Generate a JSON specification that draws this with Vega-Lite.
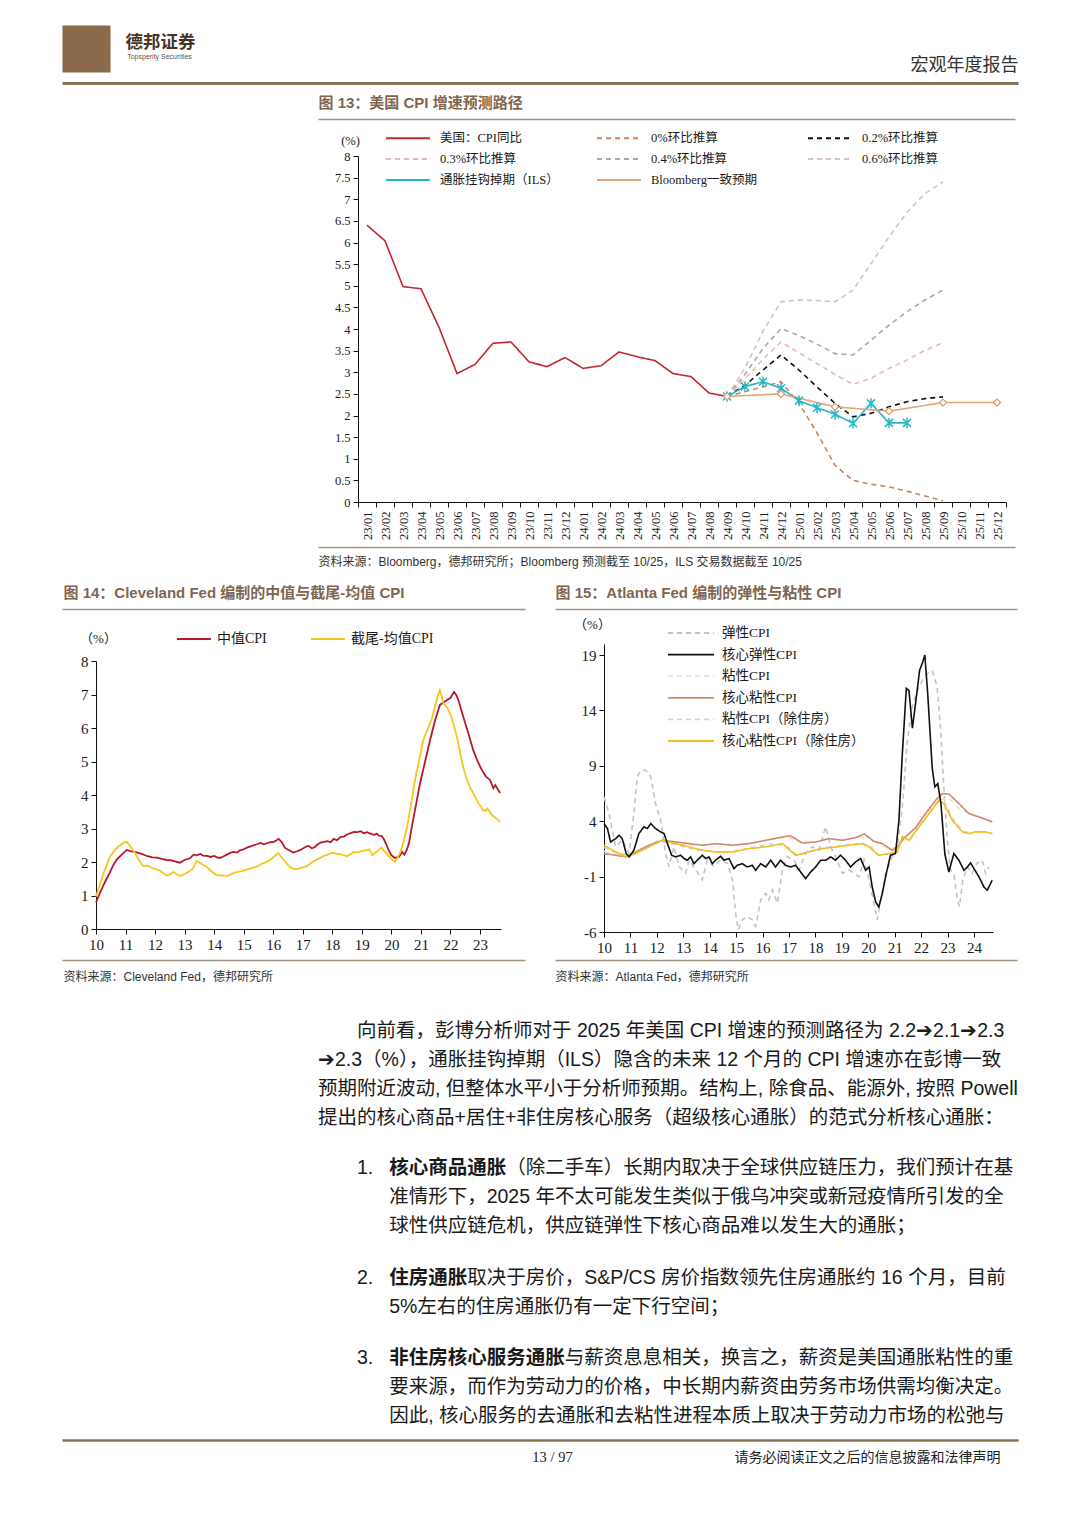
{
"$schema": "https://vega.github.io/schema/vega-lite/v6.json",
"background": "white",
"width": 956,
"height": 1415,
"autosize": {"type": "none"},
"padding": {"left": 62, "top": 25, "right": 62, "bottom": 88},
"resolve": {"scale": {"x": "independent", "y": "independent", "color": "independent", "strokeDash": "independent"}, "axis": {"x": "independent", "y": "independent"}, "legend": {"color": "independent", "strokeDash": "independent"}},
"config": {
  "view": {"stroke": null},
  "font": "Noto Sans CJK SC",
  "axis": {"grid": false, "domainColor": "#111", "tickColor": "#111", "labelColor": "#1a1a1a", "labelFont": "Liberation Serif", "titleColor": "#1a1a1a", "titleFont": "Liberation Serif, Noto Sans CJK SC", "titleFontWeight": "normal", "labelFlush": false, "labelOverlap": false, "tickSize": 5},
  "legend": {"labelFont": "Liberation Serif, Noto Sans CJK SC", "labelColor": "#1a1a1a", "padding": 0}
},
"datasets": {
  "empty": [],
  "c13": [
    {"s":"美国：CPI同比","m":"23/01","v":6.4},{"s":"美国：CPI同比","m":"23/02","v":6.04},{"s":"美国：CPI同比","m":"23/03","v":4.98},{"s":"美国：CPI同比","m":"23/04","v":4.93},{"s":"美国：CPI同比","m":"23/05","v":4.04},{"s":"美国：CPI同比","m":"23/06","v":2.97},{"s":"美国：CPI同比","m":"23/07","v":3.18},{"s":"美国：CPI同比","m":"23/08","v":3.67},{"s":"美国：CPI同比","m":"23/09","v":3.7},{"s":"美国：CPI同比","m":"23/10","v":3.24},{"s":"美国：CPI同比","m":"23/11","v":3.13},{"s":"美国：CPI同比","m":"23/12","v":3.34},{"s":"美国：CPI同比","m":"24/01","v":3.09},{"s":"美国：CPI同比","m":"24/02","v":3.15},{"s":"美国：CPI同比","m":"24/03","v":3.47},{"s":"美国：CPI同比","m":"24/04","v":3.36},{"s":"美国：CPI同比","m":"24/05","v":3.27},{"s":"美国：CPI同比","m":"24/06","v":2.97},{"s":"美国：CPI同比","m":"24/07","v":2.9},{"s":"美国：CPI同比","m":"24/08","v":2.52},{"s":"美国：CPI同比","m":"24/09","v":2.44},
    {"s":"0%环比推算","m":"24/09","v":2.44},{"s":"0%环比推算","m":"24/10","v":2.55},{"s":"0%环比推算","m":"24/11","v":2.66},{"s":"0%环比推算","m":"24/12","v":2.78},{"s":"0%环比推算","m":"25/01","v":2.28},{"s":"0%环比推算","m":"25/02","v":1.6},{"s":"0%环比推算","m":"25/03","v":0.85},{"s":"0%环比推算","m":"25/04","v":0.5},{"s":"0%环比推算","m":"25/05","v":0.41},{"s":"0%环比推算","m":"25/06","v":0.35},{"s":"0%环比推算","m":"25/07","v":0.25},{"s":"0%环比推算","m":"25/08","v":0.14},{"s":"0%环比推算","m":"25/09","v":0.03},
    {"s":"0.2%环比推算","m":"24/09","v":2.44},{"s":"0.2%环比推算","m":"24/10","v":2.7},{"s":"0.2%环比推算","m":"24/11","v":3.05},{"s":"0.2%环比推算","m":"24/12","v":3.4},{"s":"0.2%环比推算","m":"25/01","v":3.05},{"s":"0.2%环比推算","m":"25/02","v":2.66},{"s":"0.2%环比推算","m":"25/03","v":2.28},{"s":"0.2%环比推算","m":"25/04","v":1.97},{"s":"0.2%环比推算","m":"25/05","v":2.05},{"s":"0.2%环比推算","m":"25/06","v":2.2},{"s":"0.2%环比推算","m":"25/07","v":2.32},{"s":"0.2%环比推算","m":"25/08","v":2.39},{"s":"0.2%环比推算","m":"25/09","v":2.43},
    {"s":"0.3%环比推算","m":"24/09","v":2.44},{"s":"0.3%环比推算","m":"24/10","v":2.85},{"s":"0.3%环比推算","m":"24/11","v":3.3},{"s":"0.3%环比推算","m":"24/12","v":3.7},{"s":"0.3%环比推算","m":"25/01","v":3.45},{"s":"0.3%环比推算","m":"25/02","v":3.2},{"s":"0.3%环比推算","m":"25/03","v":2.95},{"s":"0.3%环比推算","m":"25/04","v":2.72},{"s":"0.3%环比推算","m":"25/05","v":2.86},{"s":"0.3%环比推算","m":"25/06","v":3.09},{"s":"0.3%环比推算","m":"25/07","v":3.28},{"s":"0.3%环比推算","m":"25/08","v":3.51},{"s":"0.3%环比推算","m":"25/09","v":3.68},
    {"s":"0.4%环比推算","m":"24/09","v":2.44},{"s":"0.4%环比推算","m":"24/10","v":2.95},{"s":"0.4%环比推算","m":"24/11","v":3.55},{"s":"0.4%环比推算","m":"24/12","v":4.01},{"s":"0.4%环比推算","m":"25/01","v":3.85},{"s":"0.4%环比推算","m":"25/02","v":3.65},{"s":"0.4%环比推算","m":"25/03","v":3.43},{"s":"0.4%环比推算","m":"25/04","v":3.4},{"s":"0.4%环比推算","m":"25/05","v":3.74},{"s":"0.4%环比推算","m":"25/06","v":4.09},{"s":"0.4%环比推算","m":"25/07","v":4.4},{"s":"0.4%环比推算","m":"25/08","v":4.67},{"s":"0.4%环比推算","m":"25/09","v":4.9},
    {"s":"0.6%环比推算","m":"24/09","v":2.44},{"s":"0.6%环比推算","m":"24/10","v":3.1},{"s":"0.6%环比推算","m":"24/11","v":3.95},{"s":"0.6%环比推算","m":"24/12","v":4.63},{"s":"0.6%环比推算","m":"25/01","v":4.67},{"s":"0.6%环比推算","m":"25/02","v":4.66},{"s":"0.6%环比推算","m":"25/03","v":4.63},{"s":"0.6%环比推算","m":"25/04","v":4.9},{"s":"0.6%环比推算","m":"25/05","v":5.51},{"s":"0.6%环比推算","m":"25/06","v":6.13},{"s":"0.6%环比推算","m":"25/07","v":6.7},{"s":"0.6%环比推算","m":"25/08","v":7.13},{"s":"0.6%环比推算","m":"25/09","v":7.4},
    {"s":"通胀挂钩掉期（ILS）","m":"24/09","v":2.44},{"s":"通胀挂钩掉期（ILS）","m":"24/10","v":2.67},{"s":"通胀挂钩掉期（ILS）","m":"24/11","v":2.78},{"s":"通胀挂钩掉期（ILS）","m":"24/12","v":2.63},{"s":"通胀挂钩掉期（ILS）","m":"25/01","v":2.34},{"s":"通胀挂钩掉期（ILS）","m":"25/02","v":2.18},{"s":"通胀挂钩掉期（ILS）","m":"25/03","v":2.03},{"s":"通胀挂钩掉期（ILS）","m":"25/04","v":1.82},{"s":"通胀挂钩掉期（ILS）","m":"25/05","v":2.28},{"s":"通胀挂钩掉期（ILS）","m":"25/06","v":1.83},{"s":"通胀挂钩掉期（ILS）","m":"25/07","v":1.83},
    {"s":"Bloomberg一致预期","m":"24/09","v":2.44},{"s":"Bloomberg一致预期","m":"24/12","v":2.5},{"s":"Bloomberg一致预期","m":"25/03","v":2.2},{"s":"Bloomberg一致预期","m":"25/06","v":2.1},{"s":"Bloomberg一致预期","m":"25/09","v":2.3},{"s":"Bloomberg一致预期","m":"25/12","v":2.3}
  ],
  "c14": [
    {"s":"中值CPI","t":2010.0,"v":0.79},{"s":"中值CPI","t":2010.12,"v":1.05},{"s":"中值CPI","t":2010.25,"v":1.3},{"s":"中值CPI","t":2010.36,"v":1.5},{"s":"中值CPI","t":2010.47,"v":1.68},{"s":"中值CPI","t":2010.58,"v":1.9},{"s":"中值CPI","t":2010.7,"v":2.07},{"s":"中值CPI","t":2010.87,"v":2.22},{"s":"中值CPI","t":2011.04,"v":2.36},{"s":"中值CPI","t":2011.2,"v":2.32},{"s":"中值CPI","t":2011.38,"v":2.29},{"s":"中值CPI","t":2011.55,"v":2.24},{"s":"中值CPI","t":2011.72,"v":2.18},{"s":"中值CPI","t":2011.9,"v":2.14},{"s":"中值CPI","t":2012.06,"v":2.13},{"s":"中值CPI","t":2012.23,"v":2.09},{"s":"中值CPI","t":2012.4,"v":2.06},{"s":"中值CPI","t":2012.55,"v":2.05},{"s":"中值CPI","t":2012.68,"v":2.02},{"s":"中值CPI","t":2012.84,"v":1.98},{"s":"中值CPI","t":2013.0,"v":2.06},{"s":"中值CPI","t":2013.18,"v":2.11},{"s":"中值CPI","t":2013.3,"v":2.22},{"s":"中值CPI","t":2013.42,"v":2.2},{"s":"中值CPI","t":2013.53,"v":2.24},{"s":"中值CPI","t":2013.65,"v":2.18},{"s":"中值CPI","t":2013.76,"v":2.18},{"s":"中值CPI","t":2013.88,"v":2.15},{"s":"中值CPI","t":2014.0,"v":2.18},{"s":"中值CPI","t":2014.1,"v":2.14},{"s":"中值CPI","t":2014.2,"v":2.12},{"s":"中值CPI","t":2014.32,"v":2.17},{"s":"中值CPI","t":2014.43,"v":2.22},{"s":"中值CPI","t":2014.54,"v":2.27},{"s":"中值CPI","t":2014.66,"v":2.3},{"s":"中值CPI","t":2014.78,"v":2.28},{"s":"中值CPI","t":2014.87,"v":2.35},{"s":"中值CPI","t":2015.0,"v":2.38},{"s":"中值CPI","t":2015.11,"v":2.43},{"s":"中值CPI","t":2015.21,"v":2.46},{"s":"中值CPI","t":2015.34,"v":2.5},{"s":"中值CPI","t":2015.45,"v":2.53},{"s":"中值CPI","t":2015.57,"v":2.57},{"s":"中值CPI","t":2015.68,"v":2.53},{"s":"中值CPI","t":2015.79,"v":2.56},{"s":"中值CPI","t":2015.9,"v":2.59},{"s":"中值CPI","t":2016.02,"v":2.6},{"s":"中值CPI","t":2016.1,"v":2.64},{"s":"中值CPI","t":2016.18,"v":2.69},{"s":"中值CPI","t":2016.28,"v":2.6},{"s":"中值CPI","t":2016.4,"v":2.42},{"s":"中值CPI","t":2016.52,"v":2.36},{"s":"中值CPI","t":2016.68,"v":2.28},{"s":"中值CPI","t":2016.81,"v":2.32},{"s":"中值CPI","t":2016.92,"v":2.36},{"s":"中值CPI","t":2017.02,"v":2.41},{"s":"中值CPI","t":2017.12,"v":2.46},{"s":"中值CPI","t":2017.2,"v":2.48},{"s":"中值CPI","t":2017.3,"v":2.41},{"s":"中值CPI","t":2017.4,"v":2.44},{"s":"中值CPI","t":2017.5,"v":2.52},{"s":"中值CPI","t":2017.6,"v":2.58},{"s":"中值CPI","t":2017.72,"v":2.6},{"s":"中值CPI","t":2017.83,"v":2.62},{"s":"中值CPI","t":2017.94,"v":2.59},{"s":"中值CPI","t":2018.05,"v":2.69},{"s":"中值CPI","t":2018.16,"v":2.65},{"s":"中值CPI","t":2018.28,"v":2.75},{"s":"中值CPI","t":2018.39,"v":2.76},{"s":"中值CPI","t":2018.5,"v":2.82},{"s":"中值CPI","t":2018.62,"v":2.86},{"s":"中值CPI","t":2018.73,"v":2.9},{"s":"中值CPI","t":2018.85,"v":2.89},{"s":"中值CPI","t":2018.96,"v":2.92},{"s":"中值CPI","t":2019.07,"v":2.86},{"s":"中值CPI","t":2019.18,"v":2.89},{"s":"中值CPI","t":2019.3,"v":2.84},{"s":"中值CPI","t":2019.41,"v":2.81},{"s":"中值CPI","t":2019.5,"v":2.84},{"s":"中值CPI","t":2019.58,"v":2.79},{"s":"中值CPI","t":2019.67,"v":2.78},{"s":"中值CPI","t":2019.75,"v":2.67},{"s":"中值CPI","t":2019.84,"v":2.5},{"s":"中值CPI","t":2019.92,"v":2.33},{"s":"中值CPI","t":2020.0,"v":2.2},{"s":"中值CPI","t":2020.12,"v":2.12},{"s":"中值CPI","t":2020.26,"v":2.16},{"s":"中值CPI","t":2020.36,"v":2.3},{"s":"中值CPI","t":2020.44,"v":2.22},{"s":"中值CPI","t":2020.52,"v":2.36},{"s":"中值CPI","t":2020.6,"v":2.58},{"s":"中值CPI","t":2020.69,"v":3.05},{"s":"中值CPI","t":2020.83,"v":3.7},{"s":"中值CPI","t":2020.97,"v":4.35},{"s":"中值CPI","t":2021.14,"v":5.0},{"s":"中值CPI","t":2021.31,"v":5.64},{"s":"中值CPI","t":2021.47,"v":6.2},{"s":"中值CPI","t":2021.64,"v":6.69},{"s":"中值CPI","t":2021.81,"v":6.79},{"s":"中值CPI","t":2022.0,"v":6.9},{"s":"中值CPI","t":2022.12,"v":7.08},{"s":"中值CPI","t":2022.2,"v":6.98},{"s":"中值CPI","t":2022.28,"v":6.8},{"s":"中值CPI","t":2022.43,"v":6.34},{"s":"中值CPI","t":2022.6,"v":5.85},{"s":"中值CPI","t":2022.77,"v":5.34},{"s":"中值CPI","t":2022.92,"v":5.0},{"s":"中值CPI","t":2023.06,"v":4.75},{"s":"中值CPI","t":2023.2,"v":4.55},{"s":"中值CPI","t":2023.34,"v":4.45},{"s":"中值CPI","t":2023.45,"v":4.2},{"s":"中值CPI","t":2023.52,"v":4.3},{"s":"中值CPI","t":2023.6,"v":4.17},{"s":"中值CPI","t":2023.68,"v":4.06},
    {"s":"截尾-均值CPI","t":2010.0,"v":0.97},{"s":"截尾-均值CPI","t":2010.12,"v":1.3},{"s":"截尾-均值CPI","t":2010.24,"v":1.62},{"s":"截尾-均值CPI","t":2010.36,"v":1.9},{"s":"截尾-均值CPI","t":2010.47,"v":2.16},{"s":"截尾-均值CPI","t":2010.64,"v":2.36},{"s":"截尾-均值CPI","t":2010.78,"v":2.48},{"s":"截尾-均值CPI","t":2010.92,"v":2.57},{"s":"截尾-均值CPI","t":2011.04,"v":2.6},{"s":"截尾-均值CPI","t":2011.18,"v":2.45},{"s":"截尾-均值CPI","t":2011.32,"v":2.27},{"s":"截尾-均值CPI","t":2011.46,"v":2.05},{"s":"截尾-均值CPI","t":2011.6,"v":1.88},{"s":"截尾-均值CPI","t":2011.75,"v":1.9},{"s":"截尾-均值CPI","t":2011.9,"v":1.82},{"s":"截尾-均值CPI","t":2012.05,"v":1.78},{"s":"截尾-均值CPI","t":2012.17,"v":1.74},{"s":"截尾-均值CPI","t":2012.3,"v":1.66},{"s":"截尾-均值CPI","t":2012.4,"v":1.6},{"s":"截尾-均值CPI","t":2012.5,"v":1.63},{"s":"截尾-均值CPI","t":2012.62,"v":1.7},{"s":"截尾-均值CPI","t":2012.72,"v":1.64},{"s":"截尾-均值CPI","t":2012.84,"v":1.58},{"s":"截尾-均值CPI","t":2013.0,"v":1.64},{"s":"截尾-均值CPI","t":2013.18,"v":1.74},{"s":"截尾-均值CPI","t":2013.28,"v":1.8},{"s":"截尾-均值CPI","t":2013.4,"v":2.03},{"s":"截尾-均值CPI","t":2013.52,"v":1.98},{"s":"截尾-均值CPI","t":2013.62,"v":1.92},{"s":"截尾-均值CPI","t":2013.74,"v":1.86},{"s":"截尾-均值CPI","t":2013.88,"v":1.74},{"s":"截尾-均值CPI","t":2014.08,"v":1.61},{"s":"截尾-均值CPI","t":2014.24,"v":1.6},{"s":"截尾-均值CPI","t":2014.42,"v":1.58},{"s":"截尾-均值CPI","t":2014.56,"v":1.63},{"s":"截尾-均值CPI","t":2014.7,"v":1.69},{"s":"截尾-均值CPI","t":2014.87,"v":1.71},{"s":"截尾-均值CPI","t":2015.05,"v":1.76},{"s":"截尾-均值CPI","t":2015.25,"v":1.82},{"s":"截尾-均值CPI","t":2015.44,"v":1.86},{"s":"截尾-均值CPI","t":2015.6,"v":1.94},{"s":"截尾-均值CPI","t":2015.75,"v":1.99},{"s":"截尾-均值CPI","t":2015.89,"v":2.06},{"s":"截尾-均值CPI","t":2016.05,"v":2.18},{"s":"截尾-均值CPI","t":2016.17,"v":2.27},{"s":"截尾-均值CPI","t":2016.3,"v":2.12},{"s":"截尾-均值CPI","t":2016.45,"v":1.96},{"s":"截尾-均值CPI","t":2016.58,"v":1.84},{"s":"截尾-均值CPI","t":2016.72,"v":1.78},{"s":"截尾-均值CPI","t":2016.85,"v":1.8},{"s":"截尾-均值CPI","t":2017.0,"v":1.84},{"s":"截尾-均值CPI","t":2017.12,"v":1.87},{"s":"截尾-均值CPI","t":2017.24,"v":1.95},{"s":"截尾-均值CPI","t":2017.38,"v":2.03},{"s":"截尾-均值CPI","t":2017.55,"v":2.1},{"s":"截尾-均值CPI","t":2017.71,"v":2.18},{"s":"截尾-均值CPI","t":2017.85,"v":2.22},{"s":"截尾-均值CPI","t":2017.99,"v":2.28},{"s":"截尾-均值CPI","t":2018.14,"v":2.25},{"s":"截尾-均值CPI","t":2018.28,"v":2.23},{"s":"截尾-均值CPI","t":2018.4,"v":2.2},{"s":"截尾-均值CPI","t":2018.5,"v":2.17},{"s":"截尾-均值CPI","t":2018.62,"v":2.24},{"s":"截尾-均值CPI","t":2018.73,"v":2.3},{"s":"截尾-均值CPI","t":2018.88,"v":2.29},{"s":"截尾-均值CPI","t":2019.02,"v":2.33},{"s":"截尾-均值CPI","t":2019.13,"v":2.35},{"s":"截尾-均值CPI","t":2019.24,"v":2.38},{"s":"截尾-均值CPI","t":2019.3,"v":2.3},{"s":"截尾-均值CPI","t":2019.36,"v":2.2},{"s":"截尾-均值CPI","t":2019.45,"v":2.28},{"s":"截尾-均值CPI","t":2019.53,"v":2.33},{"s":"截尾-均值CPI","t":2019.6,"v":2.38},{"s":"截尾-均值CPI","t":2019.66,"v":2.43},{"s":"截尾-均值CPI","t":2019.73,"v":2.36},{"s":"截尾-均值CPI","t":2019.81,"v":2.28},{"s":"截尾-均值CPI","t":2019.9,"v":2.18},{"s":"截尾-均值CPI","t":2019.98,"v":2.1},{"s":"截尾-均值CPI","t":2020.05,"v":2.05},{"s":"截尾-均值CPI","t":2020.12,"v":2.0},{"s":"截尾-均值CPI","t":2020.2,"v":2.12},{"s":"截尾-均值CPI","t":2020.29,"v":2.27},{"s":"截尾-均值CPI","t":2020.41,"v":2.6},{"s":"截尾-均值CPI","t":2020.53,"v":3.05},{"s":"截尾-均值CPI","t":2020.66,"v":3.7},{"s":"截尾-均值CPI","t":2020.8,"v":4.45},{"s":"截尾-均值CPI","t":2020.94,"v":5.05},{"s":"截尾-均值CPI","t":2021.08,"v":5.64},{"s":"截尾-均值CPI","t":2021.22,"v":5.95},{"s":"截尾-均值CPI","t":2021.36,"v":6.24},{"s":"截尾-均值CPI","t":2021.46,"v":6.6},{"s":"截尾-均值CPI","t":2021.55,"v":6.9},{"s":"截尾-均值CPI","t":2021.64,"v":7.13},{"s":"截尾-均值CPI","t":2021.7,"v":6.95},{"s":"截尾-均值CPI","t":2021.75,"v":6.75},{"s":"截尾-均值CPI","t":2021.9,"v":6.6},{"s":"截尾-均值CPI","t":2022.0,"v":6.4},{"s":"截尾-均值CPI","t":2022.09,"v":6.15},{"s":"截尾-均值CPI","t":2022.17,"v":5.9},{"s":"截尾-均值CPI","t":2022.25,"v":5.6},{"s":"截尾-均值CPI","t":2022.34,"v":5.2},{"s":"截尾-均值CPI","t":2022.43,"v":4.84},{"s":"截尾-均值CPI","t":2022.52,"v":4.55},{"s":"截尾-均值CPI","t":2022.6,"v":4.35},{"s":"截尾-均值CPI","t":2022.68,"v":4.2},{"s":"截尾-均值CPI","t":2022.77,"v":4.06},{"s":"截尾-均值CPI","t":2022.86,"v":3.9},{"s":"截尾-均值CPI","t":2022.95,"v":3.75},{"s":"截尾-均值CPI","t":2023.03,"v":3.65},{"s":"截尾-均值CPI","t":2023.1,"v":3.55},{"s":"截尾-均值CPI","t":2023.18,"v":3.52},{"s":"截尾-均值CPI","t":2023.25,"v":3.6},{"s":"截尾-均值CPI","t":2023.33,"v":3.5},{"s":"截尾-均值CPI","t":2023.4,"v":3.4},{"s":"截尾-均值CPI","t":2023.48,"v":3.35},{"s":"截尾-均值CPI","t":2023.55,"v":3.3},{"s":"截尾-均值CPI","t":2023.62,"v":3.25},{"s":"截尾-均值CPI","t":2023.68,"v":3.19}
  ],
  "c15": [
    {"s":"弹性CPI","t":2010.0,"v":6.2},{"s":"弹性CPI","t":2010.19,"v":4.7},{"s":"弹性CPI","t":2010.44,"v":1.7},{"s":"弹性CPI","t":2010.69,"v":2.3},{"s":"弹性CPI","t":2010.95,"v":1.1},{"s":"弹性CPI","t":2011.13,"v":4.7},{"s":"弹性CPI","t":2011.26,"v":8.0},{"s":"弹性CPI","t":2011.39,"v":8.6},{"s":"弹性CPI","t":2011.58,"v":8.6},{"s":"弹性CPI","t":2011.77,"v":8.0},{"s":"弹性CPI","t":2011.95,"v":5.6},{"s":"弹性CPI","t":2012.14,"v":4.1},{"s":"弹性CPI","t":2012.33,"v":1.1},{"s":"弹性CPI","t":2012.46,"v":-0.1},{"s":"弹性CPI","t":2012.65,"v":1.7},{"s":"弹性CPI","t":2012.84,"v":-0.1},{"s":"弹性CPI","t":2013.09,"v":-0.7},{"s":"弹性CPI","t":2013.22,"v":0.5},{"s":"弹性CPI","t":2013.47,"v":-0.4},{"s":"弹性CPI","t":2013.72,"v":-1.3},{"s":"弹性CPI","t":2013.91,"v":0.5},{"s":"弹性CPI","t":2014.16,"v":-0.1},{"s":"弹性CPI","t":2014.41,"v":0.5},{"s":"弹性CPI","t":2014.67,"v":0.2},{"s":"弹性CPI","t":2014.86,"v":-1.3},{"s":"弹性CPI","t":2014.98,"v":-4.3},{"s":"弹性CPI","t":2015.08,"v":-5.8},{"s":"弹性CPI","t":2015.23,"v":-4.9},{"s":"弹性CPI","t":2015.42,"v":-4.6},{"s":"弹性CPI","t":2015.61,"v":-4.9},{"s":"弹性CPI","t":2015.74,"v":-5.5},{"s":"弹性CPI","t":2015.93,"v":-3.1},{"s":"弹性CPI","t":2016.12,"v":-2.5},{"s":"弹性CPI","t":2016.24,"v":-3.1},{"s":"弹性CPI","t":2016.37,"v":-2.2},{"s":"弹性CPI","t":2016.56,"v":-3.4},{"s":"弹性CPI","t":2016.75,"v":-0.4},{"s":"弹性CPI","t":2016.94,"v":0.8},{"s":"弹性CPI","t":2017.19,"v":0.5},{"s":"弹性CPI","t":2017.38,"v":-0.4},{"s":"弹性CPI","t":2017.63,"v":1.1},{"s":"弹性CPI","t":2017.88,"v":1.7},{"s":"弹性CPI","t":2018.13,"v":1.4},{"s":"弹性CPI","t":2018.39,"v":3.5},{"s":"弹性CPI","t":2018.58,"v":1.7},{"s":"弹性CPI","t":2018.76,"v":0.8},{"s":"弹性CPI","t":2019.02,"v":-0.7},{"s":"弹性CPI","t":2019.27,"v":-0.4},{"s":"弹性CPI","t":2019.46,"v":-0.7},{"s":"弹性CPI","t":2019.65,"v":-1.0},{"s":"弹性CPI","t":2019.84,"v":0.5},{"s":"弹性CPI","t":2020.03,"v":-1.3},{"s":"弹性CPI","t":2020.21,"v":-3.4},{"s":"弹性CPI","t":2020.34,"v":-4.9},{"s":"弹性CPI","t":2020.47,"v":-3.1},{"s":"弹性CPI","t":2020.66,"v":-0.7},{"s":"弹性CPI","t":2020.91,"v":0.8},{"s":"弹性CPI","t":2021.1,"v":1.7},{"s":"弹性CPI","t":2021.29,"v":5.3},{"s":"弹性CPI","t":2021.48,"v":11.3},{"s":"弹性CPI","t":2021.66,"v":14.3},{"s":"弹性CPI","t":2021.85,"v":15.8},{"s":"弹性CPI","t":2022.04,"v":16.7},{"s":"弹性CPI","t":2022.23,"v":17.3},{"s":"弹性CPI","t":2022.42,"v":17.6},{"s":"弹性CPI","t":2022.61,"v":16.1},{"s":"弹性CPI","t":2022.74,"v":12.2},{"s":"弹性CPI","t":2022.86,"v":7.1},{"s":"弹性CPI","t":2022.99,"v":2.3},{"s":"弹性CPI","t":2023.11,"v":-0.4},{"s":"弹性CPI","t":2023.24,"v":-0.7},{"s":"弹性CPI","t":2023.37,"v":-3.1},{"s":"弹性CPI","t":2023.45,"v":-3.7},{"s":"弹性CPI","t":2023.58,"v":-1.3},{"s":"弹性CPI","t":2023.75,"v":-0.1},{"s":"弹性CPI","t":2023.93,"v":-0.7},{"s":"弹性CPI","t":2024.12,"v":0.2},{"s":"弹性CPI","t":2024.31,"v":0.5},{"s":"弹性CPI","t":2024.44,"v":-0.7},{"s":"弹性CPI","t":2024.56,"v":-0.1},
    {"s":"粘性CPI","t":2010.0,"v":1.3},{"s":"粘性CPI","t":2010.5,"v":1.0},{"s":"粘性CPI","t":2011.0,"v":0.9},{"s":"粘性CPI","t":2011.5,"v":1.5},{"s":"粘性CPI","t":2012.0,"v":2.1},{"s":"粘性CPI","t":2012.5,"v":2.1},{"s":"粘性CPI","t":2013.0,"v":1.9},{"s":"粘性CPI","t":2013.5,"v":1.8},{"s":"粘性CPI","t":2014.0,"v":1.9},{"s":"粘性CPI","t":2014.5,"v":1.9},{"s":"粘性CPI","t":2015.0,"v":1.9},{"s":"粘性CPI","t":2015.5,"v":2.0},{"s":"粘性CPI","t":2016.0,"v":2.2},{"s":"粘性CPI","t":2016.5,"v":2.4},{"s":"粘性CPI","t":2017.0,"v":2.5},{"s":"粘性CPI","t":2017.5,"v":2.0},{"s":"粘性CPI","t":2018.0,"v":2.1},{"s":"粘性CPI","t":2018.5,"v":2.4},{"s":"粘性CPI","t":2019.0,"v":2.3},{"s":"粘性CPI","t":2019.5,"v":2.5},{"s":"粘性CPI","t":2020.0,"v":2.6},{"s":"粘性CPI","t":2020.4,"v":1.9},{"s":"粘性CPI","t":2020.9,"v":1.4},{"s":"粘性CPI","t":2021.3,"v":2.4},{"s":"粘性CPI","t":2021.8,"v":3.5},{"s":"粘性CPI","t":2022.2,"v":4.8},{"s":"粘性CPI","t":2022.7,"v":6.0},{"s":"粘性CPI","t":2023.1,"v":6.0},{"s":"粘性CPI","t":2023.5,"v":5.0},{"s":"粘性CPI","t":2024.0,"v":4.5},{"s":"粘性CPI","t":2024.7,"v":4.0},
    {"s":"粘性CPI（除住房）","t":2010.0,"v":1.6},{"s":"粘性CPI（除住房）","t":2010.5,"v":1.2},{"s":"粘性CPI（除住房）","t":2011.0,"v":0.9},{"s":"粘性CPI（除住房）","t":2011.5,"v":1.5},{"s":"粘性CPI（除住房）","t":2012.0,"v":2.2},{"s":"粘性CPI（除住房）","t":2012.5,"v":2.0},{"s":"粘性CPI（除住房）","t":2013.0,"v":1.7},{"s":"粘性CPI（除住房）","t":2013.5,"v":1.4},{"s":"粘性CPI（除住房）","t":2014.0,"v":1.3},{"s":"粘性CPI（除住房）","t":2014.5,"v":1.2},{"s":"粘性CPI（除住房）","t":2015.0,"v":1.3},{"s":"粘性CPI（除住房）","t":2015.5,"v":1.6},{"s":"粘性CPI（除住房）","t":2016.0,"v":1.8},{"s":"粘性CPI（除住房）","t":2016.5,"v":2.0},{"s":"粘性CPI（除住房）","t":2017.0,"v":1.6},{"s":"粘性CPI（除住房）","t":2017.3,"v":0.9},{"s":"粘性CPI（除住房）","t":2017.8,"v":1.3},{"s":"粘性CPI（除住房）","t":2018.3,"v":1.6},{"s":"粘性CPI（除住房）","t":2018.8,"v":1.7},{"s":"粘性CPI（除住房）","t":2019.3,"v":1.9},{"s":"粘性CPI（除住房）","t":2019.8,"v":2.0},{"s":"粘性CPI（除住房）","t":2020.1,"v":1.7},{"s":"粘性CPI（除住房）","t":2020.4,"v":0.9},{"s":"粘性CPI（除住房）","t":2020.8,"v":1.1},{"s":"粘性CPI（除住房）","t":2021.1,"v":1.3},{"s":"粘性CPI（除住房）","t":2021.3,"v":2.6},{"s":"粘性CPI（除住房）","t":2021.6,"v":2.4},{"s":"粘性CPI（除住房）","t":2021.9,"v":3.5},{"s":"粘性CPI（除住房）","t":2022.3,"v":4.7},{"s":"粘性CPI（除住房）","t":2022.7,"v":5.9},{"s":"粘性CPI（除住房）","t":2022.9,"v":5.7},{"s":"粘性CPI（除住房）","t":2023.2,"v":4.2},{"s":"粘性CPI（除住房）","t":2023.6,"v":3.1},{"s":"粘性CPI（除住房）","t":2023.9,"v":2.9},{"s":"粘性CPI（除住房）","t":2024.1,"v":3.1},{"s":"粘性CPI（除住房）","t":2024.5,"v":3.0},{"s":"粘性CPI（除住房）","t":2024.7,"v":2.9},
    {"s":"核心粘性CPI","t":2010.0,"v":1.08},{"s":"核心粘性CPI","t":2010.44,"v":0.93},{"s":"核心粘性CPI","t":2010.82,"v":0.78},{"s":"核心粘性CPI","t":2011.2,"v":1.23},{"s":"核心粘性CPI","t":2011.7,"v":1.83},{"s":"核心粘性CPI","t":2012.21,"v":2.28},{"s":"核心粘性CPI","t":2012.71,"v":2.13},{"s":"核心粘性CPI","t":2013.22,"v":1.98},{"s":"核心粘性CPI","t":2013.72,"v":1.83},{"s":"核心粘性CPI","t":2014.22,"v":1.98},{"s":"核心粘性CPI","t":2014.86,"v":1.83},{"s":"核心粘性CPI","t":2015.49,"v":1.98},{"s":"核心粘性CPI","t":2016.12,"v":2.28},{"s":"核心粘性CPI","t":2016.75,"v":2.58},{"s":"核心粘性CPI","t":2017.04,"v":2.7},{"s":"核心粘性CPI","t":2017.5,"v":2.05},{"s":"核心粘性CPI","t":2018.01,"v":2.13},{"s":"核心粘性CPI","t":2018.51,"v":2.43},{"s":"核心粘性CPI","t":2019.02,"v":2.28},{"s":"核心粘性CPI","t":2019.52,"v":2.52},{"s":"核心粘性CPI","t":2019.85,"v":2.85},{"s":"核心粘性CPI","t":2020.2,"v":2.2},{"s":"核心粘性CPI","t":2020.53,"v":1.98},{"s":"核心粘性CPI","t":2020.91,"v":1.38},{"s":"核心粘性CPI","t":2021.1,"v":1.7},{"s":"核心粘性CPI","t":2021.41,"v":2.6},{"s":"核心粘性CPI","t":2021.79,"v":3.4},{"s":"核心粘性CPI","t":2022.17,"v":4.69},{"s":"核心粘性CPI","t":2022.55,"v":5.9},{"s":"核心粘性CPI","t":2022.8,"v":6.5},{"s":"核心粘性CPI","t":2023.05,"v":6.45},{"s":"核心粘性CPI","t":2023.43,"v":5.6},{"s":"核心粘性CPI","t":2023.81,"v":4.69},{"s":"核心粘性CPI","t":2024.19,"v":4.39},{"s":"核心粘性CPI","t":2024.69,"v":3.94},
    {"s":"核心粘性CPI（除住房）","t":2010.0,"v":1.83},{"s":"核心粘性CPI（除住房）","t":2010.44,"v":1.23},{"s":"核心粘性CPI（除住房）","t":2010.82,"v":0.78},{"s":"核心粘性CPI（除住房）","t":2011.2,"v":1.08},{"s":"核心粘性CPI（除住房）","t":2011.7,"v":1.68},{"s":"核心粘性CPI（除住房）","t":2012.21,"v":2.28},{"s":"核心粘性CPI（除住房）","t":2012.71,"v":1.98},{"s":"核心粘性CPI（除住房）","t":2013.22,"v":1.68},{"s":"核心粘性CPI（除住房）","t":2013.72,"v":1.38},{"s":"核心粘性CPI（除住房）","t":2014.22,"v":1.23},{"s":"核心粘性CPI（除住房）","t":2014.86,"v":1.23},{"s":"核心粘性CPI（除住房）","t":2015.49,"v":1.53},{"s":"核心粘性CPI（除住房）","t":2016.12,"v":1.68},{"s":"核心粘性CPI（除住房）","t":2016.75,"v":1.98},{"s":"核心粘性CPI（除住房）","t":2017.25,"v":0.93},{"s":"核心粘性CPI（除住房）","t":2017.76,"v":1.23},{"s":"核心粘性CPI（除住房）","t":2018.26,"v":1.53},{"s":"核心粘性CPI（除住房）","t":2018.76,"v":1.68},{"s":"核心粘性CPI（除住房）","t":2019.27,"v":1.83},{"s":"核心粘性CPI（除住房）","t":2019.77,"v":1.98},{"s":"核心粘性CPI（除住房）","t":2020.03,"v":1.68},{"s":"核心粘性CPI（除住房）","t":2020.4,"v":0.93},{"s":"核心粘性CPI（除住房）","t":2020.78,"v":1.08},{"s":"核心粘性CPI（除住房）","t":2021.1,"v":1.23},{"s":"核心粘性CPI（除住房）","t":2021.29,"v":2.58},{"s":"核心粘性CPI（除住房）","t":2021.54,"v":2.28},{"s":"核心粘性CPI（除住房）","t":2021.92,"v":3.49},{"s":"核心粘性CPI（除住房）","t":2022.3,"v":4.69},{"s":"核心粘性CPI（除住房）","t":2022.68,"v":5.9},{"s":"核心粘性CPI（除住房）","t":2022.86,"v":5.6},{"s":"核心粘性CPI（除住房）","t":2023.18,"v":4.09},{"s":"核心粘性CPI（除住房）","t":2023.56,"v":3.04},{"s":"核心粘性CPI（除住房）","t":2023.81,"v":2.89},{"s":"核心粘性CPI（除住房）","t":2024.06,"v":3.04},{"s":"核心粘性CPI（除住房）","t":2024.44,"v":3.04},{"s":"核心粘性CPI（除住房）","t":2024.69,"v":2.89},
    {"s":"核心弹性CPI","t":2010.0,"v":3.79},{"s":"核心弹性CPI","t":2010.13,"v":3.34},{"s":"核心弹性CPI","t":2010.25,"v":2.13},{"s":"核心弹性CPI","t":2010.44,"v":2.43},{"s":"核心弹性CPI","t":2010.57,"v":2.73},{"s":"核心弹性CPI","t":2010.69,"v":2.43},{"s":"核心弹性CPI","t":2010.84,"v":1.08},{"s":"核心弹性CPI","t":2010.95,"v":0.78},{"s":"核心弹性CPI","t":2011.13,"v":1.38},{"s":"核心弹性CPI","t":2011.32,"v":2.89},{"s":"核心弹性CPI","t":2011.51,"v":3.49},{"s":"核心弹性CPI","t":2011.64,"v":3.34},{"s":"核心弹性CPI","t":2011.77,"v":3.79},{"s":"核心弹性CPI","t":2011.95,"v":3.34},{"s":"核心弹性CPI","t":2012.14,"v":3.04},{"s":"核心弹性CPI","t":2012.27,"v":2.89},{"s":"核心弹性CPI","t":2012.4,"v":1.98},{"s":"核心弹性CPI","t":2012.56,"v":0.93},{"s":"核心弹性CPI","t":2012.71,"v":0.78},{"s":"核心弹性CPI","t":2012.9,"v":0.93},{"s":"核心弹性CPI","t":2013.03,"v":0.63},{"s":"核心弹性CPI","t":2013.15,"v":0.48},{"s":"核心弹性CPI","t":2013.28,"v":0.78},{"s":"核心弹性CPI","t":2013.4,"v":0.17},{"s":"核心弹性CPI","t":2013.53,"v":0.48},{"s":"核心弹性CPI","t":2013.72,"v":0.93},{"s":"核心弹性CPI","t":2013.85,"v":0.63},{"s":"核心弹性CPI","t":2013.97,"v":0.78},{"s":"核心弹性CPI","t":2014.1,"v":0.17},{"s":"核心弹性CPI","t":2014.22,"v":0.48},{"s":"核心弹性CPI","t":2014.41,"v":0.84},{"s":"核心弹性CPI","t":2014.54,"v":0.48},{"s":"核心弹性CPI","t":2014.73,"v":0.63},{"s":"核心弹性CPI","t":2014.92,"v":-0.28},{"s":"核心弹性CPI","t":2015.04,"v":0.02},{"s":"核心弹性CPI","t":2015.23,"v":0.17},{"s":"核心弹性CPI","t":2015.42,"v":-0.13},{"s":"核心弹性CPI","t":2015.61,"v":0.02},{"s":"核心弹性CPI","t":2015.74,"v":-0.43},{"s":"核心弹性CPI","t":2015.93,"v":0.17},{"s":"核心弹性CPI","t":2016.12,"v":-0.13},{"s":"核心弹性CPI","t":2016.31,"v":0.48},{"s":"核心弹性CPI","t":2016.49,"v":-0.13},{"s":"核心弹性CPI","t":2016.68,"v":0.48},{"s":"核心弹性CPI","t":2016.87,"v":0.02},{"s":"核心弹性CPI","t":2017.06,"v":-0.13},{"s":"核心弹性CPI","t":2017.25,"v":0.02},{"s":"核心弹性CPI","t":2017.44,"v":-0.58},{"s":"核心弹性CPI","t":2017.63,"v":-1.18},{"s":"核心弹性CPI","t":2017.82,"v":-0.58},{"s":"核心弹性CPI","t":2018.01,"v":-0.13},{"s":"核心弹性CPI","t":2018.2,"v":0.48},{"s":"核心弹性CPI","t":2018.39,"v":0.48},{"s":"核心弹性CPI","t":2018.58,"v":0.78},{"s":"核心弹性CPI","t":2018.76,"v":0.48},{"s":"核心弹性CPI","t":2018.95,"v":0.93},{"s":"核心弹性CPI","t":2019.14,"v":0.48},{"s":"核心弹性CPI","t":2019.33,"v":-0.13},{"s":"核心弹性CPI","t":2019.52,"v":0.33},{"s":"核心弹性CPI","t":2019.71,"v":0.63},{"s":"核心弹性CPI","t":2019.9,"v":-0.43},{"s":"核心弹性CPI","t":2020.03,"v":-0.13},{"s":"核心弹性CPI","t":2020.15,"v":-1.94},{"s":"核心弹性CPI","t":2020.28,"v":-3.29},{"s":"核心弹性CPI","t":2020.4,"v":-3.74},{"s":"核心弹性CPI","t":2020.53,"v":-2.54},{"s":"核心弹性CPI","t":2020.68,"v":-0.73},{"s":"核心弹性CPI","t":2020.84,"v":0.93},{"s":"核心弹性CPI","t":2021.03,"v":1.08},{"s":"核心弹性CPI","t":2021.16,"v":4.09},{"s":"核心弹性CPI","t":2021.29,"v":10.1},{"s":"核心弹性CPI","t":2021.44,"v":16.0},{"s":"核心弹性CPI","t":2021.54,"v":15.8},{"s":"核心弹性CPI","t":2021.67,"v":12.4},{"s":"核心弹性CPI","t":2021.85,"v":15.8},{"s":"核心弹性CPI","t":2021.94,"v":17.6},{"s":"核心弹性CPI","t":2022.05,"v":18.3},{"s":"核心弹性CPI","t":2022.14,"v":19.0},{"s":"核心弹性CPI","t":2022.25,"v":15.5},{"s":"核心弹性CPI","t":2022.42,"v":8.8},{"s":"核心弹性CPI","t":2022.52,"v":7.1},{"s":"核心弹性CPI","t":2022.63,"v":7.4},{"s":"核心弹性CPI","t":2022.75,"v":5.6},{"s":"核心弹性CPI","t":2022.9,"v":1.0},{"s":"核心弹性CPI","t":2023.05,"v":-0.58},{"s":"核心弹性CPI","t":2023.24,"v":1.08},{"s":"核心弹性CPI","t":2023.43,"v":0.48},{"s":"核心弹性CPI","t":2023.62,"v":-0.43},{"s":"核心弹性CPI","t":2023.75,"v":-0.13},{"s":"核心弹性CPI","t":2023.87,"v":0.23},{"s":"核心弹性CPI","t":2024.04,"v":-0.43},{"s":"核心弹性CPI","t":2024.19,"v":-1.03},{"s":"核心弹性CPI","t":2024.38,"v":-1.94},{"s":"核心弹性CPI","t":2024.5,"v":-2.23},{"s":"核心弹性CPI","t":2024.69,"v":-1.33}
  ],
  "body": [
    {"para":1,"line":1,"indent":2,"text":"向前看，彭博分析师对于 2025 年美国 CPI 增速的预测路径为 2.2➔2.1➔2.3"},
    {"para":1,"line":2,"indent":0,"text":"➔2.3（%），通胀挂钩掉期（ILS）隐含的未来 12 个月的 CPI 增速亦在彭博一致"},
    {"para":1,"line":3,"indent":0,"text":"预期附近波动, 但整体水平小于分析师预期。结构上, 除食品、能源外, 按照 Powell"},
    {"para":1,"line":4,"indent":0,"text":"提出的核心商品+居住+非住房核心服务（超级核心通胀）的范式分析核心通胀："},
    {"para":2,"line":1,"indent":2,"text":"1."},
    {"para":2,"line":1,"indent":3.65,"text":"核心商品通胀","role":"term"},
    {"para":2,"line":1,"indent":9.65,"text":"（除二手车）长期内取决于全球供应链压力，我们预计在基"},
    {"para":2,"line":2,"indent":3.65,"text":"准情形下，2025 年不太可能发生类似于俄乌冲突或新冠疫情所引发的全"},
    {"para":2,"line":3,"indent":3.65,"text":"球性供应链危机，供应链弹性下核心商品难以发生大的通胀；"},
    {"para":3,"line":1,"indent":2,"text":"2."},
    {"para":3,"line":1,"indent":3.65,"text":"住房通胀","role":"term"},
    {"para":3,"line":1,"indent":7.65,"text":"取决于房价，S&P/CS 房价指数领先住房通胀约 16 个月，目前"},
    {"para":3,"line":2,"indent":3.65,"text":"5%左右的住房通胀仍有一定下行空间；"},
    {"para":4,"line":1,"indent":2,"text":"3."},
    {"para":4,"line":1,"indent":3.65,"text":"非住房核心服务通胀","role":"term"},
    {"para":4,"line":1,"indent":12.65,"text":"与薪资息息相关，换言之，薪资是美国通胀粘性的重"},
    {"para":4,"line":2,"indent":3.65,"text":"要来源，而作为劳动力的价格，中长期内薪资由劳务市场供需均衡决定。"},
    {"para":4,"line":3,"indent":3.65,"text":"因此, 核心服务的去通胀和去粘性进程本质上取决于劳动力市场的松弛与"}
  ]
},
"layer": [
  {"data": {"name": "empty"}, "mark": "point",
   "encoding": {"x": {"field": "a", "type": "quantitative", "scale": {"domain": [0, 1], "range": [0, 48]},
     "axis": {"orient": "top", "offset": -23.5, "domainColor": "#8a6a4a", "domainWidth": 47, "ticks": false, "labels": false, "title": null}}}},
  {"data": {"name": "empty"}, "mark": "point",
   "encoding": {"x": {"field": "a", "type": "quantitative", "scale": {"domain": [0, 1], "range": [0, 956]},
     "axis": {"orient": "top", "offset": -58, "domainColor": "#8b7358", "domainWidth": 3, "ticks": false, "labels": false,
       "title": "宏观年度报告", "titleX": 956, "titleY": -9, "titleAlign": "right", "titleBaseline": "bottom", "titleFont": "Noto Sans CJK SC", "titleFontSize": 18, "titleColor": "#333"}}}},
  {"data": {"name": "empty"}, "mark": "point",
   "encoding": {"x": {"field": "a", "type": "quantitative", "scale": {"domain": [0, 1], "range": [0, 956]},
     "axis": {"orient": "top", "domain": false, "ticks": false, "labels": false,
       "title": "德邦证券", "titleX": 98, "titleY": 17, "titleAlign": "center", "titleBaseline": "middle", "titleFont": "Noto Sans CJK SC", "titleFontSize": 17.5, "titleFontWeight": "bold", "titleColor": "#4a3424"}}}},
  {"data": {"name": "empty"}, "mark": "point",
   "encoding": {"x": {"field": "a", "type": "quantitative", "scale": {"domain": [0, 1], "range": [0, 956]},
     "axis": {"orient": "top", "domain": false, "ticks": false, "labels": false,
       "title": "Topsperity Securities", "titleX": 97, "titleY": 31, "titleAlign": "center", "titleBaseline": "middle", "titleFont": "Liberation Sans", "titleFontSize": 7, "titleColor": "#555"}}}},
  {"data": {"name": "empty"}, "mark": "point",
   "encoding": {"x": {"field": "a", "type": "quantitative", "scale": {"domain": [0, 1], "range": [256, 953]},
     "axis": {"orient": "top", "offset": -94, "domainColor": "#a39482", "domainWidth": 1.3, "ticks": false, "labels": false,
       "title": "图 13：美国 CPI 增速预测路径", "titleX": 256, "titleY": -9, "titleAlign": "left", "titleBaseline": "bottom", "titleFont": "Liberation Sans, Noto Sans CJK SC", "titleFontSize": 15, "titleFontWeight": "bold", "titleColor": "#806650"}}}},
  {"data": {"name": "c13"},
   "mark": {"type": "line", "strokeWidth": 1.6},
   "encoding": {
     "x": {"field": "m", "type": "ordinal", "bandPosition": 0.5,
       "scale": {"type": "band", "paddingInner": 0, "paddingOuter": 0, "range": [296, 944], "domain": ["23/01","23/02","23/03","23/04","23/05","23/06","23/07","23/08","23/09","23/10","23/11","23/12","24/01","24/02","24/03","24/04","24/05","24/06","24/07","24/08","24/09","24/10","24/11","24/12","25/01","25/02","25/03","25/04","25/05","25/06","25/07","25/08","25/09","25/10","25/11","25/12"]},
       "axis": {"orient": "bottom", "offset": -938, "title": null, "labelAngle": 270, "tickBand": "extent", "labelFontSize": 12.5, "labelPadding": 4, "tickSize": 5}},
     "y": {"field": "v", "type": "quantitative", "scale": {"domain": [0, 8], "nice": false, "zero": false, "range": [477, 131]},
       "axis": {"orient": "left", "offset": -296, "values": [0,0.5,1,1.5,2,2.5,3,3.5,4,4.5,5,5.5,6,6.5,7,7.5,8], "format": "~g", "labelFontSize": 12.5, "labelPadding": 3, "title": "(%)", "titleAngle": 0, "titleX": -8, "titleY": 115, "titleAlign": "center", "titleBaseline": "middle", "titleFontSize": 12.5}},
     "color": {"field": "s", "type": "nominal",
       "scale": {"domain": ["美国：CPI同比","0%环比推算","0.2%环比推算","0.3%环比推算","0.4%环比推算","0.6%环比推算","通胀挂钩掉期（ILS）","Bloomberg一致预期"], "range": ["#c0282e","#c8845a","#111111","#eeb4b8","#a9a9a9","#d9bdd3","#27b8c8","#e3a574"]},
       "legend": {"title": null, "orient": "none", "legendX": 335, "legendY": 102, "columns": 3, "direction": "horizontal", "gridAlign": "all", "symbolType": "M-2.2,0H2.2", "symbolSize": 400, "symbolStrokeWidth": 1.8, "labelFontSize": 12.5, "labelOffset": 21, "columnPadding": 34, "rowPadding": 3, "labelLimit": 220}},
     "strokeDash": {"field": "s", "type": "nominal",
       "scale": {"domain": ["美国：CPI同比","0%环比推算","0.2%环比推算","0.3%环比推算","0.4%环比推算","0.6%环比推算","通胀挂钩掉期（ILS）","Bloomberg一致预期"], "range": [[1,0],[5,4],[5,4],[5,4],[5,4],[5,4],[1,0],[1,0]]}}
   }},
  {"data": {"name": "c13"}, "transform": [{"filter": "datum.s === '通胀挂钩掉期（ILS）'"}],
   "mark": {"type": "point", "shape": "M-1,-1L1,1M-1,1L1,-1M0,-1.3L0,1.3", "filled": false, "stroke": "#27b8c8", "strokeWidth": 1.5, "size": 64, "opacity": 1},
   "encoding": {
     "x": {"field": "m", "type": "ordinal", "bandPosition": 0.5, "scale": {"type": "band", "paddingInner": 0, "paddingOuter": 0, "range": [296, 944], "domain": ["23/01","23/02","23/03","23/04","23/05","23/06","23/07","23/08","23/09","23/10","23/11","23/12","24/01","24/02","24/03","24/04","24/05","24/06","24/07","24/08","24/09","24/10","24/11","24/12","25/01","25/02","25/03","25/04","25/05","25/06","25/07","25/08","25/09","25/10","25/11","25/12"]}, "axis": null},
     "y": {"field": "v", "type": "quantitative", "scale": {"domain": [0, 8], "nice": false, "zero": false, "range": [477, 131]}, "axis": null}
   }},
  {"data": {"name": "c13"}, "transform": [{"filter": "datum.s === 'Bloomberg一致预期'"}],
   "mark": {"type": "point", "shape": "diamond", "filled": true, "fill": "white", "stroke": "#dc9a6a", "strokeWidth": 1.2, "size": 50, "opacity": 1},
   "encoding": {
     "x": {"field": "m", "type": "ordinal", "bandPosition": 0.5, "scale": {"type": "band", "paddingInner": 0, "paddingOuter": 0, "range": [296, 944], "domain": ["23/01","23/02","23/03","23/04","23/05","23/06","23/07","23/08","23/09","23/10","23/11","23/12","24/01","24/02","24/03","24/04","24/05","24/06","24/07","24/08","24/09","24/10","24/11","24/12","25/01","25/02","25/03","25/04","25/05","25/06","25/07","25/08","25/09","25/10","25/11","25/12"]}, "axis": null},
     "y": {"field": "v", "type": "quantitative", "scale": {"domain": [0, 8], "nice": false, "zero": false, "range": [477, 131]}, "axis": null}
   }},
  {"data": {"name": "empty"}, "mark": "point",
   "encoding": {"x": {"field": "a", "type": "quantitative", "scale": {"domain": [0, 1], "range": [256, 953]},
     "axis": {"orient": "top", "offset": -522, "domainColor": "#a39482", "domainWidth": 1.3, "ticks": false, "labels": false,
       "title": "资料来源：Bloomberg，德邦研究所；Bloomberg 预测截至 10/25，ILS 交易数据截至 10/25", "titleX": 256, "titleY": 9, "titleAlign": "left", "titleBaseline": "top", "titleFont": "Liberation Sans, Noto Sans CJK SC", "titleFontSize": 12, "titleColor": "#333"}}}},
  {"data": {"name": "empty"}, "mark": "point",
   "encoding": {"x": {"field": "a", "type": "quantitative", "scale": {"domain": [0, 1], "range": [0, 463]},
     "axis": {"orient": "top", "offset": -584, "domainColor": "#a39482", "domainWidth": 1.3, "ticks": false, "labels": false,
       "title": "图 14：Cleveland Fed 编制的中值与截尾-均值 CPI", "titleX": 1, "titleY": -9, "titleAlign": "left", "titleBaseline": "bottom", "titleFont": "Liberation Sans, Noto Sans CJK SC", "titleFontSize": 15, "titleFontWeight": "bold", "titleColor": "#806650"}}}},
  {"data": {"name": "empty"}, "mark": "point",
   "encoding": {"x": {"field": "a", "type": "quantitative", "scale": {"domain": [0, 1], "range": [493, 955]},
     "axis": {"orient": "top", "offset": -584, "domainColor": "#a39482", "domainWidth": 1.3, "ticks": false, "labels": false,
       "title": "图 15：Atlanta Fed 编制的弹性与粘性 CPI", "titleX": 493, "titleY": -9, "titleAlign": "left", "titleBaseline": "bottom", "titleFont": "Liberation Sans, Noto Sans CJK SC", "titleFontSize": 15, "titleFontWeight": "bold", "titleColor": "#806650"}}}},
  {"data": {"name": "c14"},
   "mark": {"type": "line", "strokeWidth": 1.8},
   "encoding": {
     "x": {"field": "t", "type": "quantitative", "scale": {"domain": [2010, 2023.71], "nice": false, "zero": false, "range": [34, 439]},
       "axis": {"orient": "bottom", "offset": -511, "values": [2010,2011,2012,2013,2014,2015,2016,2017,2018,2019,2020,2021,2022,2023], "format": "d", "labelExpr": "substring(datum.label, 2, 4)", "title": null, "labelFontSize": 15, "labelPadding": 3}},
     "y": {"field": "v", "type": "quantitative", "scale": {"domain": [0, 8], "nice": false, "zero": false, "range": [904, 636]},
       "axis": {"orient": "left", "offset": -34, "values": [0,1,2,3,4,5,6,7,8], "labelFontSize": 15, "labelPadding": 3, "title": "（%）", "titleAngle": 0, "titleX": 2, "titleY": 613, "titleAlign": "center", "titleBaseline": "middle", "titleFontSize": 13}},
     "color": {"field": "s", "type": "nominal", "scale": {"domain": ["中值CPI","截尾-均值CPI"], "range": ["#b5192b","#f4c71c"]},
       "legend": {"title": null, "orient": "none", "legendX": 114, "legendY": 596, "direction": "horizontal", "symbolType": "M-1,0H1", "symbolSize": 1156, "symbolStrokeWidth": 2, "labelFontSize": 14, "labelOffset": 5, "columnPadding": 40}}
   }},
  {"data": {"name": "empty"},
   "mark": {"type": "rule", "color": "#111", "strokeWidth": 1.2},
   "encoding": {
     "y": {"datum": 0, "type": "quantitative", "scale": {"domain": [-6, 20], "nice": false, "zero": false, "range": [907, 619]}, "axis": null},
     "x": {"datum": 2010, "type": "quantitative", "scale": {"domain": [2010, 2024.72], "nice": false, "zero": false, "range": [542, 931]}, "axis": null},
     "x2": {"datum": 2024.72}
   }},
  {"data": {"name": "c15"},
   "mark": {"type": "line", "strokeWidth": 1.6},
   "encoding": {
     "x": {"field": "t", "type": "quantitative", "scale": {"domain": [2010, 2024.72], "nice": false, "zero": false, "range": [542, 931]},
       "axis": {"orient": "bottom", "offset": -508, "values": [2010,2011,2012,2013,2014,2015,2016,2017,2018,2019,2020,2021,2022,2023,2024], "format": "d", "labelExpr": "substring(datum.label, 2, 4)", "title": null, "labelFontSize": 15, "labelPadding": 3}},
     "y": {"field": "v", "type": "quantitative", "scale": {"domain": [-6, 20], "nice": false, "zero": false, "range": [907, 619]},
       "axis": {"orient": "left", "offset": -542, "values": [-6,-1,4,9,14,19], "labelExpr": "replace(datum.label, '−', '-')", "labelFontSize": 15, "labelPadding": 3, "title": "（%）", "titleAngle": 0, "titleX": -12, "titleY": 599, "titleAlign": "center", "titleBaseline": "middle", "titleFontSize": 13}},
     "color": {"field": "s", "type": "nominal",
       "scale": {"domain": ["弹性CPI","核心弹性CPI","粘性CPI","核心粘性CPI","粘性CPI（除住房）","核心粘性CPI（除住房）"], "range": ["#c4c4c4","#111111","#e4e4e4","#d08a6a","#d2d2d2","#f0c020"]},
       "legend": {"title": null, "orient": "none", "legendX": 618, "legendY": 597, "direction": "vertical", "symbolType": "M-2.3,0H2.3", "symbolSize": 400, "symbolStrokeWidth": 1.8, "labelFontSize": 13.5, "labelOffset": 20, "rowPadding": 3.6, "labelLimit": 220}},
     "strokeDash": {"field": "s", "type": "nominal",
       "scale": {"domain": ["弹性CPI","核心弹性CPI","粘性CPI","核心粘性CPI","粘性CPI（除住房）","核心粘性CPI（除住房）"], "range": [[5,4],[1,0],[5,4],[1,0],[5,4],[1,0]]}}
   }},
  {"data": {"name": "empty"}, "mark": "point",
   "encoding": {"x": {"field": "a", "type": "quantitative", "scale": {"domain": [0, 1], "range": [0, 463]},
     "axis": {"orient": "top", "offset": -935, "domainColor": "#a39482", "domainWidth": 1.3, "ticks": false, "labels": false,
       "title": "资料来源：Cleveland Fed，德邦研究所", "titleX": 1, "titleY": 11, "titleAlign": "left", "titleBaseline": "top", "titleFont": "Liberation Sans, Noto Sans CJK SC", "titleFontSize": 12, "titleColor": "#333"}}}},
  {"data": {"name": "empty"}, "mark": "point",
   "encoding": {"x": {"field": "a", "type": "quantitative", "scale": {"domain": [0, 1], "range": [493, 955]},
     "axis": {"orient": "top", "offset": -935, "domainColor": "#a39482", "domainWidth": 1.3, "ticks": false, "labels": false,
       "title": "资料来源：Atlanta Fed，德邦研究所", "titleX": 493, "titleY": 11, "titleAlign": "left", "titleBaseline": "top", "titleFont": "Liberation Sans, Noto Sans CJK SC", "titleFontSize": 12, "titleColor": "#333"}}}},
  {"data": {"name": "body"}, "transform": [{"filter": "datum.para === 1"}],
   "mark": {"type": "text", "align": "left", "baseline": "middle", "fontSize": 19.5, "font": "Liberation Sans, Noto Sans CJK SC", "color": "#1a1a1a"},
   "encoding": {
     "x": {"field": "indent", "type": "quantitative", "scale": {"domain": [0, 35.9], "nice": false, "zero": false, "range": [256, 956]}, "axis": null},
     "y": {"field": "line", "type": "ordinal", "scale": {"type": "point", "padding": 0, "domain": [1, 2, 3, 4], "range": [1006, 1093]}, "axis": null},
     "text": {"field": "text"}
   }},
  {"data": {"name": "body"}, "transform": [{"filter": "datum.para === 2 && datum.role !== 'term'"}],
   "mark": {"type": "text", "align": "left", "baseline": "middle", "fontSize": 19.5, "font": "Liberation Sans, Noto Sans CJK SC", "color": "#1a1a1a"},
   "encoding": {
     "x": {"field": "indent", "type": "quantitative", "scale": {"domain": [0, 35.9], "nice": false, "zero": false, "range": [256, 956]}, "axis": null},
     "y": {"field": "line", "type": "ordinal", "scale": {"type": "point", "padding": 0, "domain": [1, 2, 3], "range": [1143, 1201]}, "axis": null},
     "text": {"field": "text"}
   }},
  {"data": {"name": "body"}, "transform": [{"filter": "datum.para === 2 && datum.role === 'term'"}],
   "mark": {"type": "text", "align": "left", "baseline": "middle", "fontSize": 19.5, "fontWeight": "bold", "font": "Liberation Sans, Noto Sans CJK SC", "color": "#1a1a1a"},
   "encoding": {
     "x": {"field": "indent", "type": "quantitative", "scale": {"domain": [0, 35.9], "nice": false, "zero": false, "range": [256, 956]}, "axis": null},
     "y": {"field": "line", "type": "ordinal", "scale": {"type": "point", "padding": 0, "domain": [1, 2, 3], "range": [1143, 1201]}, "axis": null},
     "text": {"field": "text"}
   }},
  {"data": {"name": "body"}, "transform": [{"filter": "datum.para === 3 && datum.role !== 'term'"}],
   "mark": {"type": "text", "align": "left", "baseline": "middle", "fontSize": 19.5, "font": "Liberation Sans, Noto Sans CJK SC", "color": "#1a1a1a"},
   "encoding": {
     "x": {"field": "indent", "type": "quantitative", "scale": {"domain": [0, 35.9], "nice": false, "zero": false, "range": [256, 956]}, "axis": null},
     "y": {"field": "line", "type": "ordinal", "scale": {"type": "point", "padding": 0, "domain": [1, 2], "range": [1253, 1282]}, "axis": null},
     "text": {"field": "text"}
   }},
  {"data": {"name": "body"}, "transform": [{"filter": "datum.para === 3 && datum.role === 'term'"}],
   "mark": {"type": "text", "align": "left", "baseline": "middle", "fontSize": 19.5, "fontWeight": "bold", "font": "Liberation Sans, Noto Sans CJK SC", "color": "#1a1a1a"},
   "encoding": {
     "x": {"field": "indent", "type": "quantitative", "scale": {"domain": [0, 35.9], "nice": false, "zero": false, "range": [256, 956]}, "axis": null},
     "y": {"field": "line", "type": "ordinal", "scale": {"type": "point", "padding": 0, "domain": [1, 2], "range": [1253, 1282]}, "axis": null},
     "text": {"field": "text"}
   }},
  {"data": {"name": "body"}, "transform": [{"filter": "datum.para === 4 && datum.role !== 'term'"}],
   "mark": {"type": "text", "align": "left", "baseline": "middle", "fontSize": 19.5, "font": "Liberation Sans, Noto Sans CJK SC", "color": "#1a1a1a"},
   "encoding": {
     "x": {"field": "indent", "type": "quantitative", "scale": {"domain": [0, 35.9], "nice": false, "zero": false, "range": [256, 956]}, "axis": null},
     "y": {"field": "line", "type": "ordinal", "scale": {"type": "point", "padding": 0, "domain": [1, 2, 3], "range": [1333, 1391]}, "axis": null},
     "text": {"field": "text"}
   }},
  {"data": {"name": "body"}, "transform": [{"filter": "datum.para === 4 && datum.role === 'term'"}],
   "mark": {"type": "text", "align": "left", "baseline": "middle", "fontSize": 19.5, "fontWeight": "bold", "font": "Liberation Sans, Noto Sans CJK SC", "color": "#1a1a1a"},
   "encoding": {
     "x": {"field": "indent", "type": "quantitative", "scale": {"domain": [0, 35.9], "nice": false, "zero": false, "range": [256, 956]}, "axis": null},
     "y": {"field": "line", "type": "ordinal", "scale": {"type": "point", "padding": 0, "domain": [1, 2, 3], "range": [1333, 1391]}, "axis": null},
     "text": {"field": "text"}
   }},
  {"data": {"name": "empty"}, "mark": "point",
   "encoding": {"x": {"field": "a", "type": "quantitative", "scale": {"domain": [0, 1], "range": [0, 956]},
     "axis": {"orient": "bottom", "domainColor": "#8b7358", "domainWidth": 2.5, "ticks": false, "labels": false,
       "title": "13 / 97", "titleX": 490, "titleY": 10, "titleAlign": "center", "titleBaseline": "top", "titleFont": "Liberation Serif", "titleFontSize": 14.5, "titleColor": "#222"}}}},
  {"data": {"name": "empty"}, "mark": "point",
   "encoding": {"x": {"field": "a", "type": "quantitative", "scale": {"domain": [0, 1], "range": [0, 956]},
     "axis": {"orient": "bottom", "domain": false, "ticks": false, "labels": false,
       "title": "请务必阅读正文之后的信息披露和法律声明", "titleX": 938, "titleY": 10, "titleAlign": "right", "titleBaseline": "top", "titleFont": "Noto Sans CJK SC", "titleFontSize": 14, "titleColor": "#222"}}}}
]
}
